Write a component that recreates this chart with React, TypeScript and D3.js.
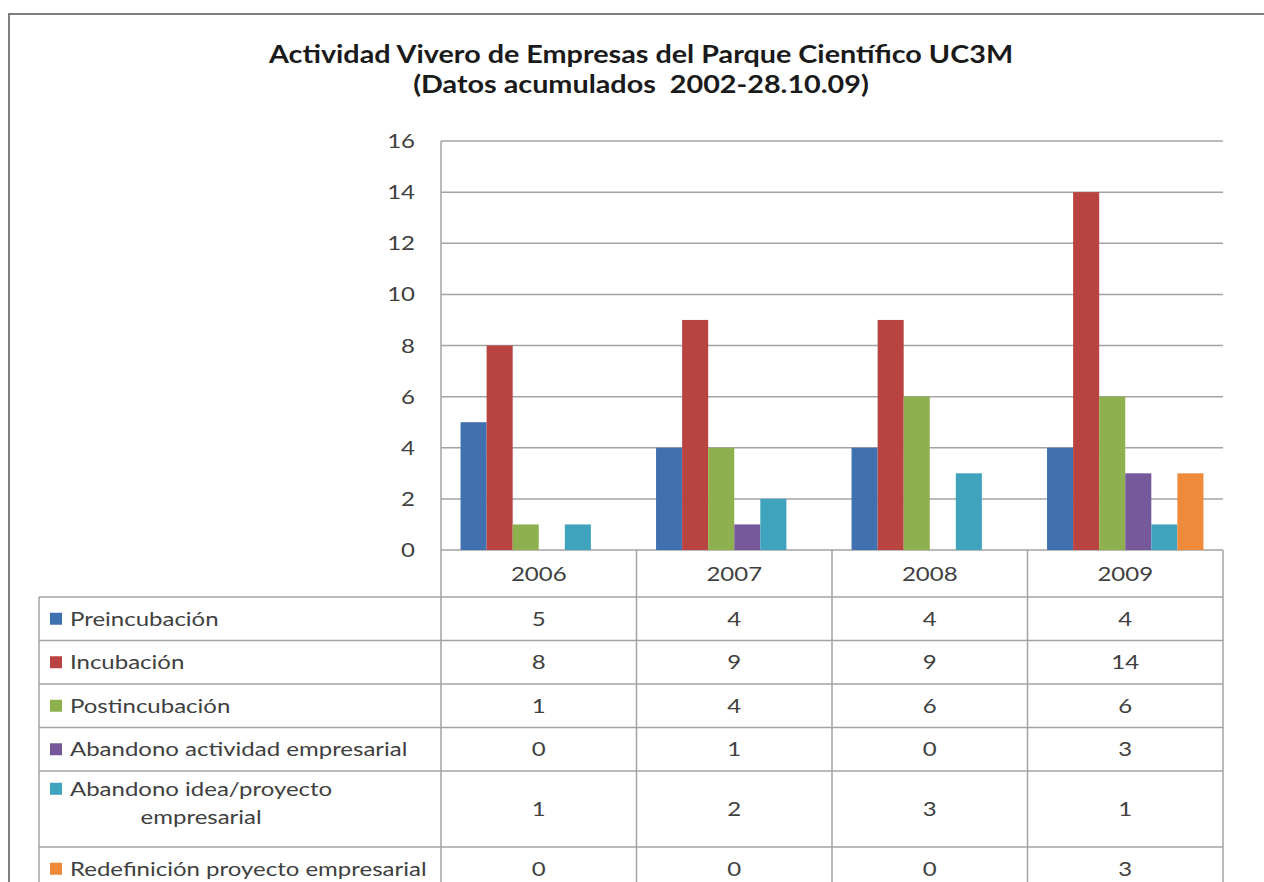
import React, { useRef, useEffect } from "react";
import * as d3 from "d3";

const years = ["2006", "2007", "2008", "2009"];
const seriesNames = [
  "Preincubación",
  "Incubación",
  "Postincubación",
  "Abandono actividad empresarial",
  "Abandono idea/proyecto empresarial",
  "Redefinición proyecto empresarial",
];
// label lines as shown in the data table
const seriesLines = [
  ["Preincubación"],
  ["Incubación"],
  ["Postincubación"],
  ["Abandono actividad empresarial"],
  ["Abandono idea/proyecto", "empresarial"],
  ["Redefinición proyecto empresarial"],
];
const preincubacion = [5, 4, 4, 4];
const incubacion = [8, 9, 9, 14];
const postincubacion = [1, 4, 6, 6];
const abandonoActividad = [0, 1, 0, 3];
const abandonoIdea = [1, 2, 3, 1];
const redefinicion = [0, 0, 0, 3];
const yTicks = [0, 2, 4, 6, 8, 10, 12, 14, 16];
const colors = ["#4170b0", "#b94340", "#8fb04f", "#75599b", "#3fa3bd", "#ee8a3a"];

const titleLines = [
  "Actividad Vivero de Empresas del Parque Científico UC3M",
  "(Datos acumulados  2002-28.10.09)",
];

const App = () => {
  const svgRef = useRef<SVGSVGElement>(null);

  useEffect(() => {
    const svg = d3.select(svgRef.current);
    svg.selectAll("*").remove();

    const values = [preincubacion, incubacion, postincubacion, abandonoActividad, abandonoIdea, redefinicion];
    const font = "Lato, 'Open Sans', sans-serif";
    const textColor = "#404040";
    const lineColor = "#a3a3a3";
    const stretch = 1.2; // the source text is drawn horizontally widened

    // text drawn with a horizontal stretch around its anchor point
    const label = (g: any, x: number, y: number, str: string | number, anchor = "start", size = 20, sx = stretch) =>
      g.append("text")
        .attr("transform", `translate(${x},${y}) scale(${sx},1)`)
        .attr("dy", "0.35em")
        .attr("text-anchor", anchor)
        .attr("font-family", font)
        .attr("font-size", size)
        .attr("fill", textColor)
        .style("white-space", "pre")
        .text(str);

    const plot = { left: 441, right: 1223, top: 141, bottom: 550 };
    const tableLeft = 39;

    // outer chart border
    svg.append("rect")
      .attr("x", 9).attr("y", 14)
      .attr("width", 1400).attr("height", 1000)
      .attr("fill", "white")
      .attr("stroke", "#7f7f7f")
      .attr("stroke-width", 2);

    // title
    titleLines.forEach((ln, i) => {
      label(svg, 641, 63 + i * 30, ln, "middle", 25, 1.15)
        .attr("dy", null)
        .attr("font-weight", "bold")
        .attr("fill", "#1a1a1a");
    });

    const x0 = d3.scaleBand().domain(years).range([plot.left, plot.right]);
    const x1 = d3.scaleBand()
      .domain(seriesNames)
      .range([0, x0.bandwidth()])
      .paddingOuter(0.75);
    const y = d3.scaleLinear().domain([0, 16]).range([plot.bottom, plot.top]);

    // gridlines
    svg.append("g").selectAll("line")
      .data(yTicks)
      .enter()
      .append("line")
      .attr("x1", plot.left).attr("x2", plot.right)
      .attr("y1", (d) => y(d)).attr("y2", (d) => y(d))
      .attr("stroke", lineColor)
      .attr("stroke-width", 1.5);

    // y tick labels
    const yt = svg.append("g");
    yTicks.forEach((d) => label(yt, 415, y(d), d, "end"));

    // bars
    seriesNames.forEach((name, si) => {
      svg.append("g").selectAll("rect")
        .data(values[si].map((v, i) => ({ year: years[i], v })))
        .enter()
        .append("rect")
        .attr("x", (d) => (x0(d.year) as number) + (x1(name) as number))
        .attr("y", (d) => y(d.v))
        .attr("width", x1.bandwidth())
        .attr("height", (d) => y(0) - y(d.v))
        .attr("fill", colors[si]);
    });

    // data table
    const headerBottom = 597;
    const rowH = 43.5;
    const extraLine = 32.5;
    const rowTops: number[] = [];
    let cur = headerBottom;
    seriesLines.forEach((lines) => {
      rowTops.push(cur);
      cur += rowH + (lines.length - 1) * extraLine;
    });
    const tableBottom = cur;

    const t = svg.append("g");
    const colEdges = [plot.left, ...years.map((yr) => (x0(yr) as number) + x0.bandwidth())];
    colEdges.forEach((cx, i) => {
      t.append("line")
        .attr("x1", cx).attr("x2", cx)
        .attr("y1", i === 0 ? plot.top : plot.bottom).attr("y2", tableBottom)
        .attr("stroke", lineColor).attr("stroke-width", 1.5);
    });
    t.append("line")
      .attr("x1", tableLeft).attr("x2", tableLeft)
      .attr("y1", headerBottom).attr("y2", tableBottom)
      .attr("stroke", lineColor).attr("stroke-width", 1.5);
    [...rowTops, tableBottom].forEach((ry) => {
      t.append("line")
        .attr("x1", tableLeft).attr("x2", plot.right)
        .attr("y1", ry).attr("y2", ry)
        .attr("stroke", lineColor).attr("stroke-width", 1.5);
    });

    // year headers
    years.forEach((yr) => label(t, (x0(yr) as number) + x0.bandwidth() / 2, (plot.bottom + headerBottom) / 2, yr, "middle"));

    // rows
    seriesLines.forEach((lines, si) => {
      const top = rowTops[si];
      const h = rowH + (lines.length - 1) * extraLine;
      const firstY = top + rowH / 2 - (lines.length > 1 ? 4 : 0);
      t.append("rect")
        .attr("x", 50).attr("y", firstY - 6)
        .attr("width", 12).attr("height", 12)
        .attr("fill", colors[si]);
      const first = label(t, 70, firstY, lines[0]);
      if (lines.length > 1) {
        const w = (first.node() as SVGTextElement).getComputedTextLength() * stretch;
        lines.slice(1).forEach((ln, li) => {
          label(t, 70 + w / 2, firstY + (li + 1) * 28, ln, "middle");
        });
      }
      values[si].forEach((v, i) => {
        label(t, (x0(years[i]) as number) + x0.bandwidth() / 2, top + h / 2, v, "middle");
      });
    });

    return () => {};
  }, []);

  return (
    <svg
      ref={svgRef}
      width={1264}
      height={882}
      style={{ position: "absolute", left: 0, top: 0, background: "white" }}
    />
  );
};

export default App;
